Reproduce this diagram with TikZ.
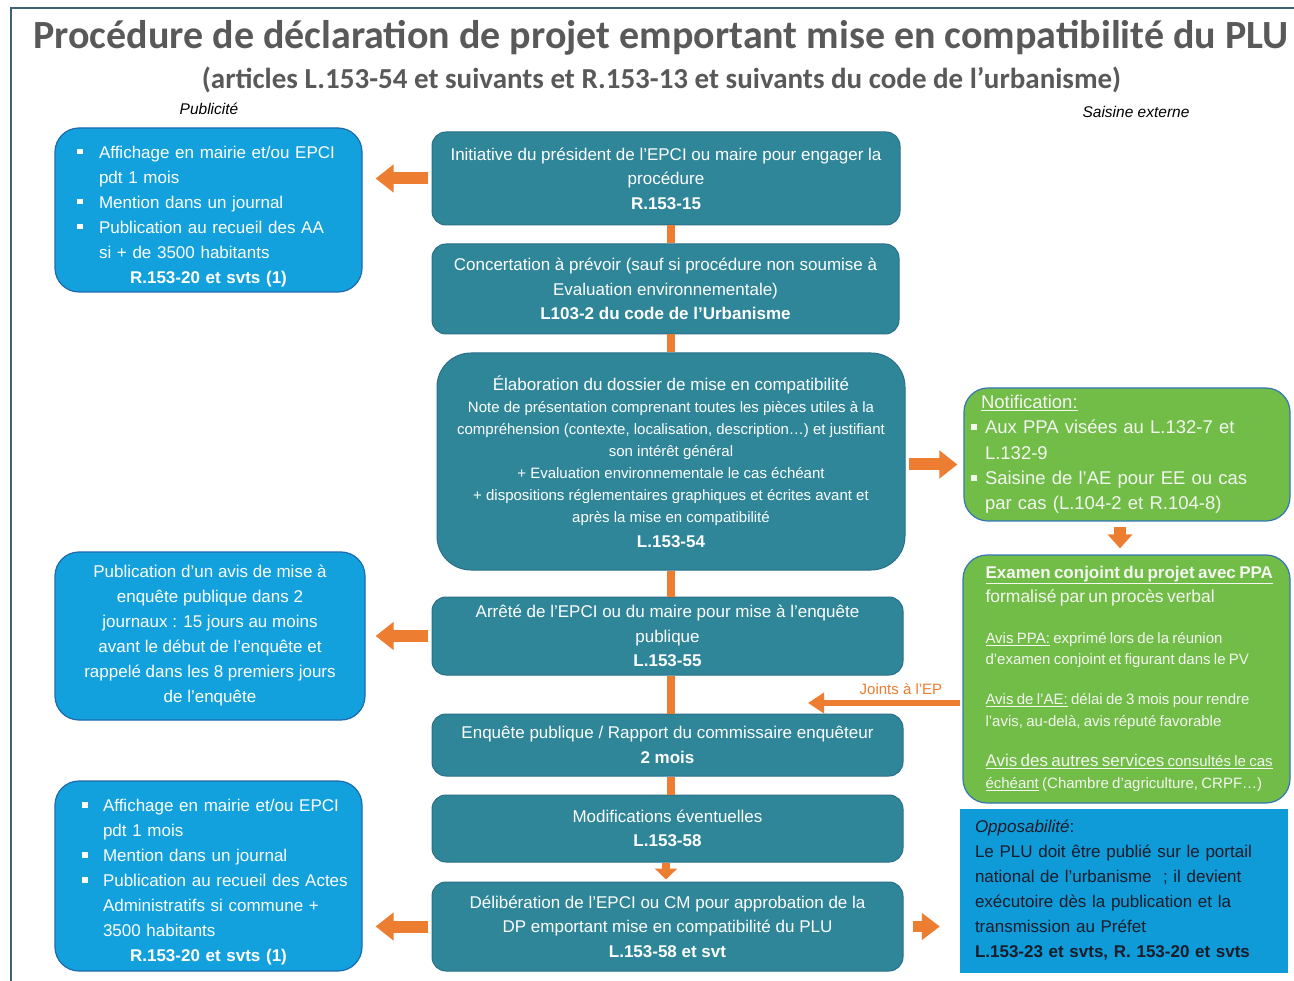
\documentclass[tikz,border=0pt]{standalone}
\usepackage{fontspec}
\setmainfont{Liberation Sans}
\newfontfamily\titlefont{Carlito}
\usetikzlibrary{arrows.meta}
\definecolor{tealc}{HTML}{2F8699}
\definecolor{tealedge}{HTML}{2A6F8A}
\definecolor{bluec}{HTML}{12A1DD}
\definecolor{blueedge}{HTML}{1F6AAE}
\definecolor{greenc}{HTML}{71BD48}
\definecolor{greenedge}{HTML}{3577B3}
\definecolor{gtext}{HTML}{F4F6F0}
\definecolor{opc}{HTML}{0E9BD8}
\definecolor{optext}{HTML}{1A1C2A}
\definecolor{orangec}{HTML}{ED7D31}
\definecolor{titlec}{HTML}{595959}
\definecolor{framec}{HTML}{3B6470}
\newcommand\fs[2]{\fontsize{#1}{#2}\selectfont}
\newcommand\sqb{\raisebox{4pt}{\rule{5.5pt}{5.5pt}}}
\newcommand\bitem[1]{\par\noindent\hangindent=#1\hangafter=1\makebox[#1][l]{\sqb}\ignorespaces}
\newcommand\nl{\unskip\hfil\break}
\begin{document}
\begin{tikzpicture}[x=1pt,y=-1pt,
  tealbox/.style={draw=tealedge, line width=1pt, fill=tealc, rounded corners=14pt, text=white, align=center, inner sep=0pt, font=\fs{17}{24.5}},
  bluebox/.style={draw=blueedge, line width=1.2pt, fill=bluec, rounded corners=24pt, text=white, inner sep=0pt},
  greenbox/.style={draw=greenedge, line width=1.2pt, fill=greenc, rounded corners=24pt, text=gtext, inner sep=0pt},
  vline/.style={draw=orangec, line width=8pt},
  bigarrow/.style={draw=orangec, line width=12pt, -{Triangle[width=27pt,length=18pt]}},
  smallarrow/.style={draw=orangec, line width=6pt, -{Triangle[width=20pt,length=16pt]}},
  labeltext/.style={font=\fs{15.5}{18}\itshape, text=black, inner sep=0pt}
]
\useasboundingbox (0,0) rectangle (1294,981);
\fill[white] (0,0) rectangle (1294,981);
\draw[framec, line width=2pt] (1294,8) -- (11,8) -- (11,981);

% titles
\node[font=\titlefont\bfseries\fs{40}{44}, text=titlec, inner sep=0pt] (title) at (661,38) {Procédure de déclaration de projet emportant mise en compatibilité du PLU};
\node[font=\titlefont\bfseries\fs{29}{32}, text=titlec, inner sep=0pt] (subtitle) at (661.5,80) {(articles L.153-54 et suivants et R.153-13 et suivants du code de l’urbanisme)};
\node[labeltext] (pub) at (209,109) {Publicité};
\node[labeltext] (saisine) at (1136,112) {Saisine externe};

% center column
\node[tealbox, minimum width=468pt, minimum height=93pt] (c1) at (666,178.5)
  {Initiative du président de l’EPCI ou maire pour engager la\\procédure\\\textbf{R.153-15}};
\node[tealbox, minimum width=467pt, minimum height=90pt] (c2) at (665.5,289)
  {Concertation à prévoir (sauf si procédure non soumise à\\Evaluation environnementale)\\\textbf{L103-2 du code de l’Urbanisme}};
\node[tealbox, rounded corners=34pt, minimum width=468pt, minimum height=217pt, font=\fs{15}{22}] (c3) at (671,461.5)
  {{\fs{17}{22}Élaboration du dossier de mise en compatibilité}\\
   Note de présentation comprenant toutes les pièces utiles à la\\
   compréhension (contexte, localisation, description…) et justifiant\\
   son intérêt général\\
   + Evaluation environnementale le cas échéant\\
   + dispositions réglementaires graphiques et écrites avant et\\
   après la mise en compatibilité\\[3pt]
   {\fs{17}{22}\bfseries L.153-54}};
\node[tealbox, minimum width=471pt, minimum height=78pt] (c4) at (667.5,636)
  {Arrêté de l’EPCI ou du maire pour mise à l’enquête\\publique\\\textbf{L.153-55}};
\node[tealbox, minimum width=471pt, minimum height=62pt] (c5) at (667.5,745)
  {Enquête publique / Rapport du commissaire enquêteur\\\textbf{2 mois}};
\node[tealbox, minimum width=471pt, minimum height=67pt] (c6) at (667.5,828.5)
  {Modifications éventuelles\\\textbf{L.153-58}};
\node[tealbox, minimum width=471pt, minimum height=89pt] (c7) at (667.5,926.5)
  {Délibération de l’EPCI ou CM pour approbation de la\\DP emportant mise en compatibilité du PLU\\\textbf{L.153-58 et svt}};

% left column
\node[bluebox, text width=283pt, inner xsep=12pt, minimum height=164pt, align=left, font=\fs{17}{25}] (l1) at (208.5,210)
  {\parindent=0pt\leftskip=10pt
   \bitem{22pt}Affichage en mairie et/ou EPCI\nl pdt 1 mois
   \bitem{22pt}Mention dans un journal
   \bitem{22pt}Publication au recueil des AA\nl si + de 3500 habitants\par
   {\centering\bfseries R.153-20 et svts (1)\par}};
\node[bluebox, minimum width=310pt, minimum height=168pt, align=center, font=\fs{17}{25}] (l2) at (210,636)
  {Publication d’un avis de mise à\\enquête publique dans 2\\journaux : 15 jours au moins\\avant le début de l’enquête et\\rappelé dans les 8 premiers jours\\de l’enquête};
\node[bluebox, text width=283pt, inner xsep=12pt, minimum height=190pt, align=left, font=\fs{17}{25}] (l3) at (208.5,876)
  {\parindent=0pt\leftskip=15pt
   \bitem{21pt}Affichage en mairie et/ou EPCI\nl pdt 1 mois
   \bitem{21pt}Mention dans un journal
   \bitem{21pt}Publication au recueil des Actes\nl Administratifs si commune +\nl 3500 habitants\par
   {\centering\bfseries R.153-20 et svts (1)\par}};

% right column
\node[greenbox, text width=312pt, inner xsep=7pt, minimum height=133pt, align=left, font=\fs{18.5}{25.3}] (g1) at (1127,454.5)
  {\parindent=0pt
   \noindent\hspace*{10pt}\underline{Notification:}\par
   \bitem{14pt}Aux PPA visées au L.132-7 et\nl L.132-9
   \bitem{14pt}Saisine de l’AE pour EE ou cas\nl par cas (L.104-2 et R.104-8)\par};
\node[greenbox, text width=300pt, inner xsep=13.5pt, minimum height=248pt, align=left] (g2) at (1126.5,679)
  {\parindent=0pt\leftskip=9pt
   {\fs{17}{24}\textbf{\underline{Examen conjoint du projet avec PPA}}\par {\fs{17.5}{24}formalisé par un procès verbal}\par}
   \vspace{20pt}
   {\fs{15}{21}\underline{Avis PPA:} exprimé lors de la réunion\par d’examen conjoint et figurant dans le PV\par}
   \vspace{18pt}
   {\fs{15}{22}\underline{Avis de l’AE:} délai de 3 mois pour rendre\par l’avis, au-delà, avis réputé favorable\par}
   \vspace{18pt}
   {\fs{15}{22}\underline{{\fs{17}{22}Avis des autres services} consultés le cas}\par \underline{échéant} (Chambre d’agriculture, CRPF…)\par}};
\node[fill=opc, text=optext, text width=298pt, inner xsep=15pt, minimum height=164pt, align=left, font=\fs{17}{25}] (op) at (1124,890.5)
  {\parindent=0pt
   \textit{Opposabilité}:\par
   Le PLU doit être publié sur le portail\par
   national de l’urbanisme \ ; il devient\par
   exécutoire dès la publication et la\par
   transmission au Préfet\par
   \textbf{L.153-23 et svts, R. 153-20 et svts}\par};

% vertical connectors
\draw[vline] (c1.south -| c3.center) -- (c2.north -| c3.center);
\draw[vline] (c2.south -| c3.center) -- (c3.north -| c3.center);
\draw[vline] (c3.south -| c3.center) -- (c4.north -| c3.center);
\draw[vline] (c4.south -| c3.center) -- (c5.north -| c3.center);
\draw[vline] (c5.south -| c3.center) -- (c6.north -| c3.center);
\draw[draw=orangec, line width=8pt, -{Triangle[width=22pt,length=11pt]}] ([yshift=-0.5pt]c6.south -| c1.center) -- ([yshift=2pt]c7.north -| c1.center);

% block arrows
\draw[bigarrow, shorten <=4pt, shorten >=13pt] (c1.west) -- (c1.west -| l1.east);
\draw[bigarrow, shorten <=4pt, shorten >=10pt] (c4.west) -- (c4.west -| l2.east);
\draw[bigarrow, shorten <=4pt, shorten >=13pt] (c7.west) -- (c7.west -| l3.east);
\draw[bigarrow, shorten <=3pt, shorten >=6pt] ([yshift=-3pt]c3.east) -- ([yshift=-3pt]c3.east -| g1.west);
\draw[draw=orangec, line width=12pt, -{Triangle[width=24pt,length=14pt]}, shorten <=5pt, shorten >=6pt] (g1.south -| 1120,0) -- (g2.north -| 1120,0);
\draw[draw=orangec, line width=11pt, -{Triangle[width=26pt,length=18pt]}, shorten <=9pt, shorten >=20pt] (c7.east) -- (c7.east -| op.west);

% joints a l'EP
\coordinate (jep) at (808,703);
\draw[smallarrow] ([xshift=-2pt]jep -| g2.west) -- (jep)
  node[pos=0.39, above=5pt, font=\fs{15}{18}, text=orangec, inner sep=0pt] (jtext) {Joints à l’EP};
\end{tikzpicture}
\end{document}
